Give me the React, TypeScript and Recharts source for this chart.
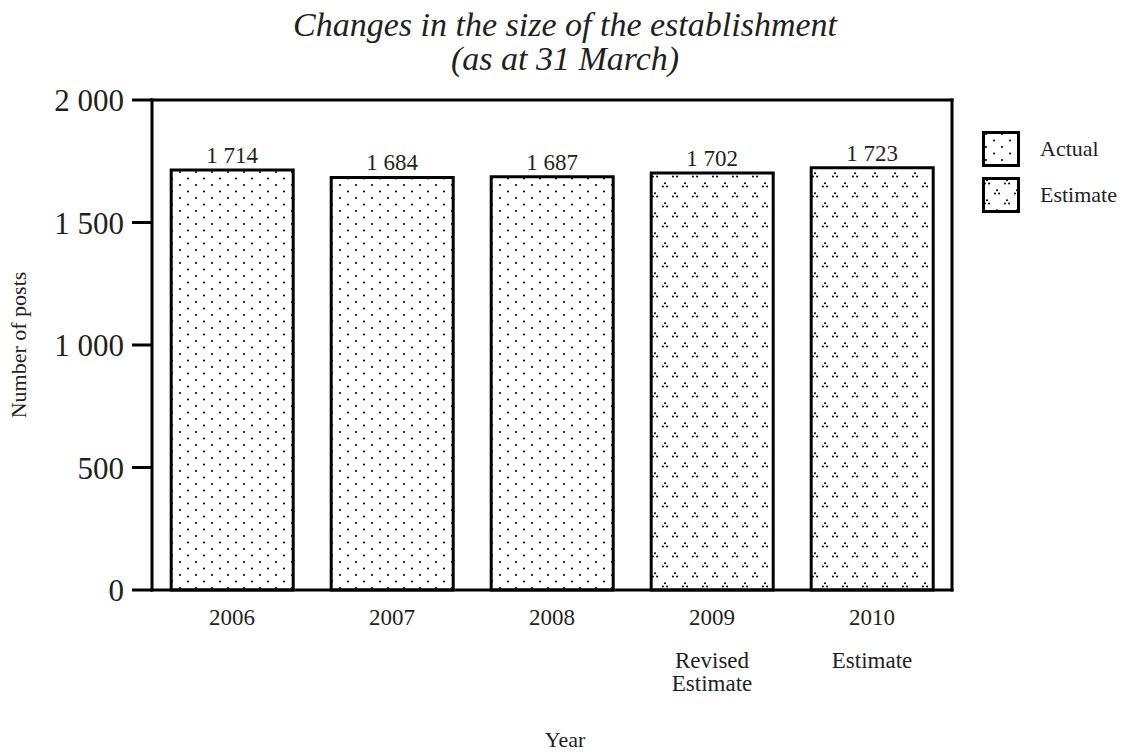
import React from 'react';
import { BarChart, Bar, XAxis, YAxis, Cell, LabelList } from 'recharts';

const years = ['2006', '2007', '2008', '2009', '2010'];
const posts = [1714, 1684, 1687, 1702, 1723];
const kinds = ['Actual', 'Actual', 'Actual', 'Estimate', 'Estimate'];
const yearNotes = [[], [], [], ['Revised', 'Estimate'], ['Estimate']];
const yTicks = [0, 500, 1000, 1500, 2000];
const legendItems = ['Actual', 'Estimate'];

const FONT = '"Liberation Serif", "Times New Roman", serif';
const INK = '#231f20';

const data = years.map((year, i) => ({ year, posts: posts[i], kind: kinds[i] }));

// 1714 -> "1 714"
const fmt = (v: any) => String(v).replace(/\B(?=(\d{3})+(?!\d))/g, ' ');

const patternFor = (kind: string, suffix = '') => `url(#${kind === 'Actual' ? 'dots' : 'tri'}${suffix})`;

function Patterns({ suffix = '' }: { suffix?: string }) {
  const tri = (cx: number, cy: number) => (
    <g key={`${cx}-${cy}`} fill="#000">
      <circle cx={cx} cy={cy - 1.7} r={1.05} />
      <circle cx={cx - 2.1} cy={cy + 1.5} r={1.05} />
      <circle cx={cx + 2.1} cy={cy + 1.5} r={1.05} />
    </g>
  );
  return (
    <defs>
      <pattern id={`dots${suffix}`} width={16} height={13} patternUnits="userSpaceOnUse">
        <rect width={16} height={13} fill="#fff" />
        <circle cx={4} cy={3} r={1.05} fill="#000" />
        <circle cx={12} cy={9.5} r={1.05} fill="#000" />
      </pattern>
      <pattern id={`tri${suffix}`} width={20} height={20} patternUnits="userSpaceOnUse">
        <rect width={20} height={20} fill="#fff" />
        {tri(5, 5)}
        {tri(15, 15)}
      </pattern>
    </defs>
  );
}

function YearTick(props: any) {
  const { x, y, payload } = props;
  const idx = years.indexOf(payload.value);
  const notes = yearNotes[idx] || [];
  return (
    <g>
      <text x={x} y={y + 35} textAnchor="middle" fontSize={23} fontFamily={FONT} fill={INK}>
        {payload.value}
      </text>
      {notes.map((n, i) => (
        <text key={i} x={x} y={y + 78 + i * 23} textAnchor="middle" fontSize={23} fontFamily={FONT} fill={INK}>
          {n}
        </text>
      ))}
    </g>
  );
}

export default function App() {
  const frame = { stroke: '#000', strokeWidth: 3, strokeLinecap: 'square' as const };
  return (
    <div style={{ position: 'absolute', left: 0, top: 0, width: 1130, height: 755, background: '#fff', fontFamily: FONT, color: INK }}>
      <div style={{ position: 'absolute', left: 0, width: 1130, top: 8, textAlign: 'center', fontStyle: 'italic', fontSize: 34, lineHeight: '34px' }}>
        Changes in the size of the establishment
        <br />
        (as at 31 March)
      </div>

      <BarChart
        width={1130}
        height={755}
        data={data}
        margin={{ top: 99, right: 177, left: 13, bottom: 0 }}
        barCategoryGap="12%"
      >
        <Patterns />
        <XAxis
          dataKey="year"
          height={165}
          axisLine={frame}
          tickLine={false}
          tickSize={0}
          tickMargin={0}
          tick={<YearTick />}
          interval={0}
        />
        <XAxis xAxisId="top" dataKey="year" orientation="top" height={1} axisLine={frame} tick={false} tickLine={false} />
        <YAxis
          domain={[0, 2000]}
          ticks={yTicks}
          width={139}
          axisLine={frame}
          tickLine={{ stroke: '#000', strokeWidth: 3 }}
          tickSize={20}
          tickMargin={8}
          tickFormatter={fmt}
          tick={{ fontSize: 31, fill: INK, fontFamily: FONT }}
          label={{ value: 'Number of posts', angle: -90, position: 'insideLeft', offset: 5, style: { fontSize: 22, fill: INK, fontFamily: FONT, textAnchor: 'middle' } }}
        />
        <YAxis yAxisId="right" orientation="right" domain={[0, 2000]} width={1} axisLine={frame} tick={false} tickLine={false} />
        <Bar dataKey="posts" stroke="#000" strokeWidth={3} isAnimationActive={false}>
          {data.map((d, i) => (
            <Cell key={i} fill={patternFor(d.kind)} />
          ))}
          <LabelList dataKey="posts" position="top" offset={7} formatter={fmt} style={{ fontSize: 23, fill: INK, fontFamily: FONT }} />
        </Bar>
      </BarChart>

      <div style={{ position: 'absolute', left: 982, top: 126 }}>
        {legendItems.map((item) => (
          <div key={item} style={{ display: 'flex', alignItems: 'center', height: 46 }}>
            <svg width={38} height={36}>
              <Patterns suffix="-lg" />
              <rect x={1.5} y={1.5} width={35} height={33} fill={patternFor(item, '-lg')} stroke="#000" strokeWidth={3} />
            </svg>
            <span style={{ marginLeft: 20, fontSize: 22 }}>{item}</span>
          </div>
        ))}
      </div>

      <div style={{ position: 'absolute', left: 0, width: 1130, top: 727, textAlign: 'center', fontSize: 22 }}>Year</div>
    </div>
  );
}
